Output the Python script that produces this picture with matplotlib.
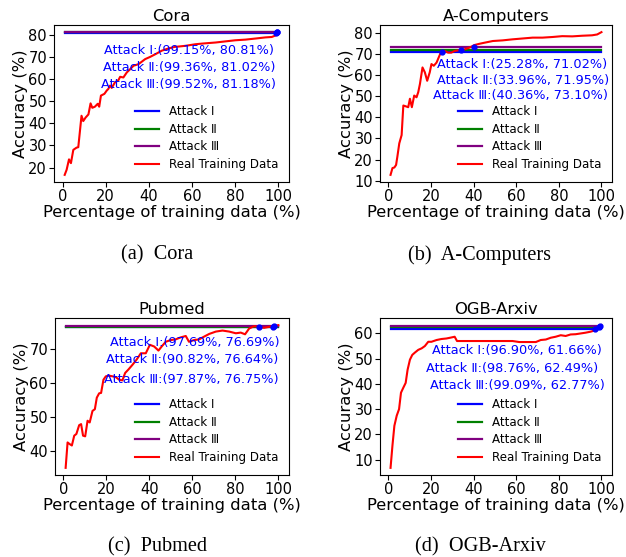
import matplotlib
matplotlib.use("Agg")
import matplotlib.pyplot as plt
from matplotlib.ticker import MultipleLocator

# ---- data ----
cora_pct = [1, 1.9, 3, 3.9, 5, 6.5, 7.3, 8.8, 9.6, 10.7, 12, 13, 13.8, 15, 16.3, 17, 17.8,
            19.4, 20.5, 21.2, 22, 22.8, 24.3, 25.9, 26.7, 28.2, 29.8, 31.3, 32.9, 35.2, 38.3,
            40.6, 43, 46, 49, 52, 57, 61.5, 64.6, 71, 75.5, 80, 84.8, 89.5, 94, 97, 100]
cora_acc = [16.7, 19, 23.7, 22, 28, 29, 29.2, 43.4, 41, 42.6, 44, 49, 47, 47.5, 48.8, 47.5, 52.5,
            53.3, 54.8, 55.5, 57, 56, 58.5, 59.5, 61, 60.7, 63, 64.4, 66, 66.7, 69,
            70, 71.2, 72.8, 73.8, 74.5, 75, 75.7, 76, 76.5, 77, 77.5, 77.8, 78.3, 78.8, 79, 80.2]

comp_pct = [1, 1.9, 2.8, 3.6, 4.2, 5.1, 6.2, 7, 8.2, 9.3, 10.1, 11, 12.1, 13.2, 14, 14.8, 16,
            17.1, 18.2, 19.4, 20.2, 21.3, 22.6, 23.6, 24.9, 26.4, 28, 29.5, 31.1, 32.7, 34.2,
            35.8, 38.1, 40.4, 42.8, 45.1, 49, 53.6, 58.3, 63, 67.7, 72.3, 77, 81.6, 86.3, 91,
            95.6, 98, 100]
comp_acc = [12.8, 16, 16.3, 17.5, 21.4, 27.7, 31.6, 45.6, 45.2, 44.8, 48.8, 44.8, 50.3, 49.5, 51.9,
            55.8, 63.6, 61.3, 57.3, 61.3, 65.2, 64.4, 65.9, 68.3, 71.4, 71.4, 70.6, 70.6, 71.4,
            71.7, 71.4, 72.2, 73, 74.2, 74.8, 75.3, 76.1, 76.4, 76.9, 77.3, 77.7, 77.7, 78,
            78.4, 78.3, 78.6, 78.8, 79.2, 80.3]

pub_pct = [1, 1.9, 2.9, 3.9, 5, 6, 7.3, 8.2, 9.1, 10.1, 11.2, 12.2, 13.5, 14.6, 15.5, 16.6, 17.5,
           18.6, 19.7, 21.2, 22.8, 24.3, 25.9, 27.4, 28.7, 30.2, 32.1, 34, 36, 38.3, 40.2, 42.2,
           44.2, 45.7, 47.6, 49.9, 52.2, 54.6, 56.9, 58.4, 60.8, 63.1, 65.4, 67.8, 70.9, 74,
           77.1, 80.2, 82.5, 84.5, 86.4, 88.7, 91, 93.3, 95.7, 98, 100]
pub_acc = [35, 42.5, 42, 41.6, 44.5, 45, 47.6, 47.9, 44.5, 44.3, 48.9, 48.4, 51.8, 52.3, 55.7, 57,
           57.1, 61, 62, 62.2, 62, 61.8, 61, 60.8, 63, 64, 65.4, 66.9, 68.8, 68.8, 71.3, 70.8,
           69.6, 70.8, 72.2, 72.7, 72.9, 73.5, 73.9, 72.2, 72.7, 72.9, 73.7, 74.5, 75.2, 75.5,
           75.2, 74.7, 74.9, 74.4, 76.1, 76.8, 76.6, 76.3, 76.6, 76.9, 77.1]

arx_pct = [1, 1.9, 2.8, 3.9, 5, 5.9, 7, 8.1, 9, 10.1, 11.2, 12.4, 14, 15.6, 17.1, 18.7, 20.2,
           22.6, 24.9, 27.2, 29.5, 31.1, 32.2, 35, 42.8, 50.5, 58.3, 61.4, 66.1, 69.2, 71.5,
           73.9, 76.2, 78.5, 80.9, 83.2, 85.5, 87.9, 90.2, 92.5, 94.9, 97.2, 98.8, 100]
arx_acc = [6.7, 15.6, 23.4, 27.4, 30, 36.5, 38.5, 40.4, 45.6, 49.6, 51.5, 52.4, 53.5, 54.1, 55,
           56.7, 56.7, 57.4, 57.8, 58, 58.4, 58.7, 57, 57, 57, 57, 57, 56.6, 56.6, 56.6, 57.4,
           57.6, 58.3, 58.7, 59.3, 59, 59.6, 59.7, 60, 60.3, 60.7, 61.3, 62.3, 63.3]

titles = ["Cora", "A-Computers", "Pubmed", "OGB-Arxiv"]
captions = ["(a)  Cora", "(b)  A-Computers", "(c)  Pubmed", "(d)  OGB-Arxiv"]
attack_names = ["Attack \u2160", "Attack \u2161", "Attack \u2162"]
attack_x = [[99.15, 99.36, 99.52], [25.28, 33.96, 40.36], [97.69, 90.82, 97.87], [96.90, 98.76, 99.09]]
attack_y = [[80.81, 81.02, 81.18], [71.02, 71.95, 73.10], [76.69, 76.64, 76.75], [61.66, 62.49, 62.77]]
# where the labels sit (data coords, centre of text)
label_x = [[58.5, 58.5, 58.5], [62.8, 63, 62.2], [61.2, 59.8, 59.5], [60.5, 58, 60.7]]
label_y = [[73, 65.4, 57.7], [64.8, 57.3, 50.3], [72, 66.9, 61.2], [53.1, 46, 39.4]]

series = [(cora_pct, cora_acc), (comp_pct, comp_acc), (pub_pct, pub_acc), (arx_pct, arx_acc)]
colors = ["blue", "green", "purple"]

W, H = 626, 557
fig = plt.figure(figsize=(W / 100, H / 100), dpi=100)

# axes boxes in pixels: left, top, right, bottom
boxes = [(54, 25, 289, 182), (380, 25, 612, 182), (55, 318, 289, 475), (380, 318, 612, 475)]
cap_pos = [(157, 255), (480, 255), (157, 547), (480, 547)]

for i in range(4):
    l, t, r, b = boxes[i]
    ax = fig.add_axes([l / W, 1 - b / H, (r - l) / W, (b - t) / H])
    pct, acc = series[i]
    for k in range(3):
        ax.plot([pct[0], pct[-1]], [attack_y[i][k]] * 2, color=colors[k], lw=1.6,
                label=attack_names[k])
    ax.plot(pct, acc, color="red", lw=1.5, label="Real Training Data")
    ax.plot(attack_x[i], attack_y[i], "o", color="blue", ms=3.5)
    for k in range(3):
        ax.text(label_x[i][k], label_y[i][k],
                "%s:(%.2f%%, %.2f%%)" % (attack_names[k], attack_x[i][k], attack_y[i][k]),
                color="blue", fontsize=9.3, ha="center", va="center")
    ax.set_title(titles[i], fontsize=11.8, pad=3)
    ax.set_xlabel("Percentage of training data (%)", fontsize=11.8, labelpad=1)
    ax.set_ylabel("Accuracy (%)", fontsize=11.8, labelpad=0)
    ax.set_xticks([0, 20, 40, 60, 80, 100])
    ax.yaxis.set_major_locator(MultipleLocator(10))
    ax.tick_params(labelsize=10.5, pad=1.5)
    ax.legend(loc="lower right", frameon=False, fontsize=8.6, labelspacing=0.4)
    fig.text(cap_pos[i][0] / W, 1 - cap_pos[i][1] / H, captions[i],
             family="Liberation Serif", fontsize=14.6, ha="center", va="center")

fig.savefig("out.png", dpi=100)
